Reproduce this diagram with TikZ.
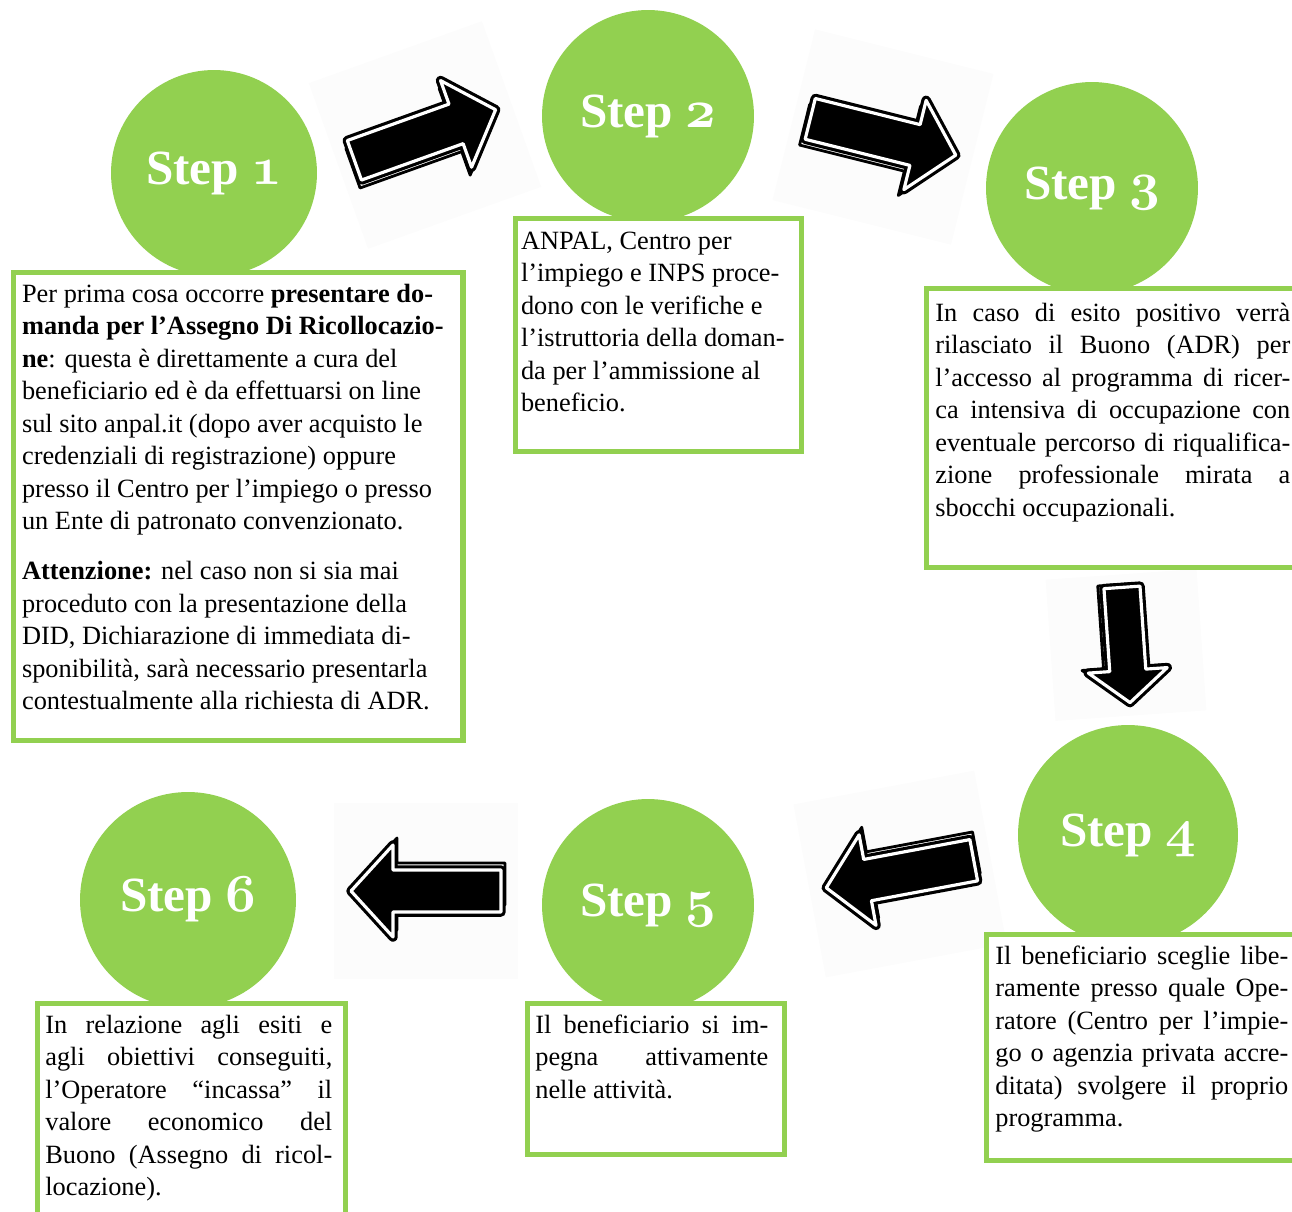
\documentclass[tikz,border=0pt]{standalone}
\usepackage{fontspec}
\usepackage{graphicx}
\newfontfamily\boxfont{Liberation Serif}
\definecolor{stepgreen}{HTML}{92D050}
\newcommand{\stepnum}[1]{\scalebox{1.22}{\usefont{OML}{cmm}{b}{it}#1}}
\newcommand{\jline}[1]{{\spaceskip=0pt\xspaceskip=0pt\makebox[\linewidth][s]{#1}}}

\tikzset{
  stepcirc/.style={circle, fill=stepgreen, text=white, inner sep=0pt,
    font={\boxfont\fontsize{28}{32}\selectfont\bfseries}},
  greenbox/.style={rectangle, draw=stepgreen, line width=3.1pt, fill=white,
    anchor=north west, inner sep=0pt},
  boxtext/.style={anchor=base west, inner sep=0pt, align=justify,
    font={\boxfont\fontsize{15}{18.5}\selectfont}},
  sketcharrow/.pic={
    \fill[black!1] (-92,-88) rectangle (92,88);
    \draw[line width=1.6pt, fill=white, line join=round, shift={(-4,7)}]
      (-75,-21) -- (33,-21) -- (33,-46) -- (75,0) -- (33,46) -- (33,21) -- (-75,21) -- cycle;
    \draw[line width=1.8pt, double=white, double distance=1.8pt, fill=black, line join=round]
      (-75,-21) -- (33,-21) -- (33,-46) -- (75,0) -- (33,46) -- (33,21) -- (-75,21) -- cycle;
  }
}

\begin{document}
\begin{tikzpicture}[x=0.02cm, y=-0.02cm]
    \useasboundingbox (0,0) rectangle (1292,1211);

    % arrows between the steps
    \pic[rotate=19.7]              at (425,135) {sketcharrow};
    \pic[rotate=-14]               at (883,137) {sketcharrow};
    \pic[rotate=-86, xscale=0.77, yscale=0.86] at (1126,645) {sketcharrow};
    \pic[rotate=190.6]             at (900,874) {sketcharrow};
    \pic[rotate=180]               at (426,891) {sketcharrow};

    % step circles
    \node[stepcirc, minimum size=4.12cm] (s1) at (214,173)  {Step \stepnum{1}};
    \node[stepcirc, minimum size=4.24cm] (s2) at (648,116)  {Step \stepnum{2}};
    \node[stepcirc, minimum size=4.24cm] (s3) at (1092,188) {Step \stepnum{3}};
    \node[stepcirc, minimum size=4.40cm] (s4) at (1128,835) {Step \stepnum{4}};
    \node[stepcirc, minimum size=4.24cm] (s5) at (648,905)  {Step \stepnum{5}};
    \node[stepcirc, minimum size=4.32cm] (s6) at (188,900)  {Step \stepnum{6}};

    % boxes
    \node[greenbox, minimum width=9.00cm, minimum height=9.37cm] (b1) at (10.5,269.5) {};
    \node[greenbox, minimum width=5.73cm, minimum height=4.67cm] (b2) at (512.5,215.5) {};
    \node[greenbox, minimum width=7.72cm, minimum height=5.58cm] (b3) at (924,286) {};
    \node[greenbox, minimum width=6.52cm, minimum height=4.52cm] (b4) at (984,932) {};
    \node[greenbox, minimum width=5.15cm, minimum height=3.02cm] (b5) at (524.5,1001) {};
    \node[greenbox, minimum width=6.17cm, minimum height=4.58cm] (b6) at (34.5,1001) {};

    % texts
    \node[boxtext, text width=8.8cm] (t1) at (21.7,302) {%
      Per prima cosa occorre \textbf{presentare do-}\\
      \textbf{manda per l’Assegno Di Ricollocazio-}\\
      \textbf{ne}: questa è direttamente a cura del\\
      beneficiario ed è da effettuarsi on line\\
      sul sito anpal.it (dopo aver acquisto le\\
      credenziali di registrazione) oppure\\
      presso il Centro per l’impiego o presso\\
      un Ente di patronato convenzionato.\\[10pt]
      \textbf{Attenzione:} nel caso non si sia mai\\
      proceduto con la presentazione della\\
      DID, Dichiarazione di immediata di-\\
      sponibilità, sarà necessario presentarla\\
      contestualmente alla richiesta di ADR.};
    \node[boxtext, text width=5.5cm] (t2) at (520.7,249.3) {%
      ANPAL, Centro per\\
      l’impiego e INPS proce-\\
      dono con le verifiche e\\
      l’istruttoria della doman-\\
      da per l’ammissione al\\
      beneficio.};
    \node[boxtext, text width=7.1cm] (t3) at (935,321) {%
      \jline{In caso di esito positivo verrà}\\
      \jline{rilasciato il Buono (ADR) per}\\
      \jline{l’accesso al programma di ricer-}\\
      \jline{ca intensiva di occupazione con}\\
      \jline{eventuale percorso di riqualifica-}\\
      \jline{zione professionale mirata a}\\
      sbocchi occupazionali.};
    \node[boxtext, text width=5.86cm] (t4) at (995,964) {%
      \jline{Il beneficiario sceglie libe-}\\
      \jline{ramente presso quale Ope-}\\
      \jline{ratore (Centro per l’impie-}\\
      \jline{go o agenzia privata accre-}\\
      \jline{ditata) svolgere il proprio}\\
      programma.};
    \node[boxtext, text width=4.66cm] (t5) at (535,1033) {%
      \jline{Il beneficiario si im-}\\
      \jline{pegna attivamente}\\
      nelle attività.};
    \node[boxtext, text width=5.74cm] (t6) at (45,1033) {%
      \jline{In relazione agli esiti e}\\
      \jline{agli obiettivi conseguiti,}\\
      \jline{l’Operatore “incassa” il}\\
      \jline{valore economico del}\\
      \jline{Buono (Assegno di ricol-}\\
      locazione).};
\end{tikzpicture}
\end{document}
